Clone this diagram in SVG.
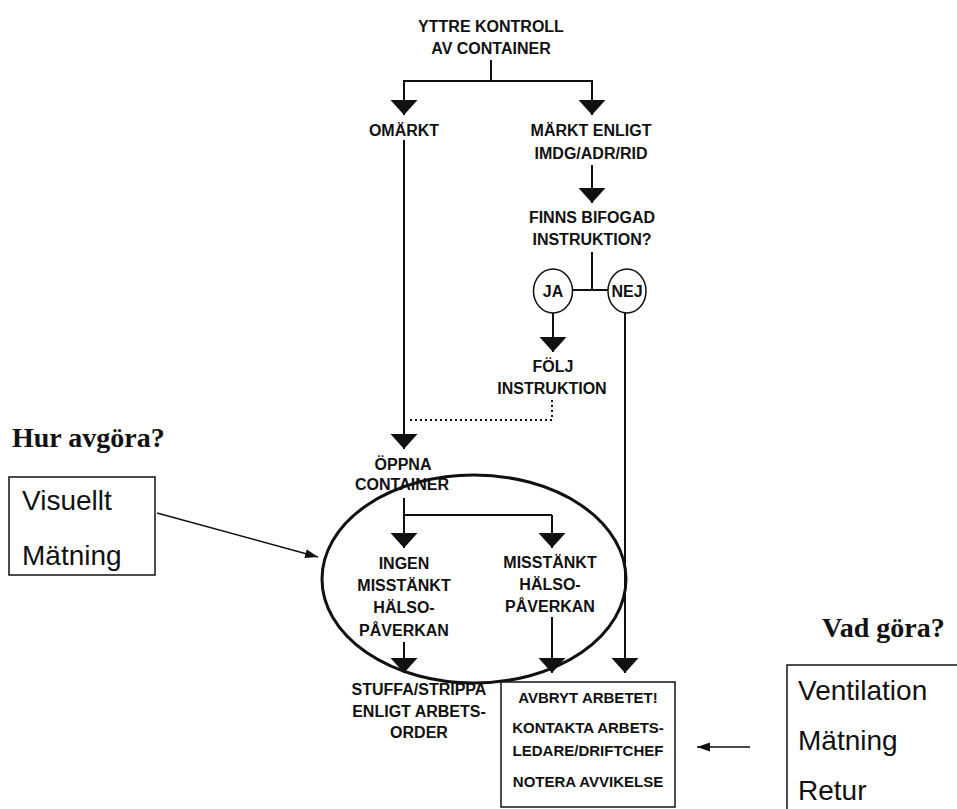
<svg xmlns="http://www.w3.org/2000/svg" width="957" height="809" viewBox="0 0 957 809">
<style>
.t{font-family:"Liberation Sans",Arial,sans-serif;font-weight:bold;font-size:16px;fill:#111;text-anchor:middle}
.s{font-size:15px}
.h{font-family:"Liberation Serif","Times New Roman",serif;font-weight:bold;font-size:28px;fill:#111}
.r{font-family:"Liberation Sans",Arial,sans-serif;font-size:28px;fill:#111}
.c{fill:none;stroke:#111;stroke-width:2}
.big{marker-end:url(#tri)}
.dot{fill:none;stroke:#111;stroke-width:2;stroke-dasharray:2 3}
.thin{fill:none;stroke:#111;stroke-width:1.5;marker-end:url(#sm)}
.box{fill:#fff;stroke:#111;stroke-width:1.5}
.oval{fill:#fff;stroke:#111;stroke-width:1.5}
</style>
<defs>
<marker id="tri" markerUnits="userSpaceOnUse" markerWidth="16" markerHeight="28" refX="15" refY="14" orient="auto" viewBox="0 0 16 28">
<path d="M0,0.5 L15,14 L0,27.5 z" fill="#111"/>
</marker>
<marker id="sm" markerUnits="userSpaceOnUse" markerWidth="14" markerHeight="10" refX="13" refY="5" orient="auto" viewBox="0 0 14 10">
<path d="M0,0.5 L13,5 L0,9.5 z" fill="#111"/>
</marker>
</defs>
<rect width="957" height="809" fill="#fff"/>

<g id="connectors">
<path class="c" d="M491,60 V81 M403,81 H593"/>
<path class="c big" d="M404,81 V115"/>
<path class="c big" d="M592,81 V115"/>
<path class="c big" d="M592,165 V203"/>
<path class="c" d="M592,252 V290 M573,290 H608"/>
<path class="c big" d="M553,313 V352"/>
<path class="c big" d="M404,140 V449"/>
<path class="dot" d="M552,400 V420 H408"/>
<path class="c" d="M404,515 H552"/>
<path class="c big" d="M404,498 V548"/>
<path class="c big" d="M552,515 V548"/>
<path class="c big" d="M404,642 V673"/>
<path class="c big" d="M552,617 V673"/>
<path class="c big" d="M625,313 V673"/>
<path class="thin" d="M157,513 L318,557"/>
<path class="thin" d="M750,747 L697,747"/>
</g>

<g id="n-yttre"><text class="t" x="491" y="32">YTTRE KONTROLL</text><text class="t" x="491" y="54">AV CONTAINER</text></g>
<g id="n-omarkt"><text class="t" x="404" y="136">OMÄRKT</text></g>
<g id="n-markt"><text class="t" x="591" y="136">MÄRKT ENLIGT</text><text class="t" x="591" y="159">IMDG/ADR/RID</text></g>
<g id="n-finns"><text class="t" x="592" y="223">FINNS BIFOGAD</text><text class="t" x="592" y="245">INSTRUKTION?</text></g>
<g id="n-ja"><ellipse class="oval" cx="553" cy="291" rx="19.5" ry="22"/><text class="t" x="553" y="297">JA</text></g>
<g id="n-nej"><ellipse class="oval" cx="627" cy="291" rx="19" ry="22"/><text class="t" x="627" y="297">NEJ</text></g>
<g id="n-folj"><text class="t" x="553" y="372">FÖLJ</text><text class="t" x="552" y="394">INSTRUKTION</text></g>
<g id="n-oppna"><text class="t" x="403" y="470">ÖPPNA</text><text class="t" x="402" y="490">CONTAINER</text></g>
<g id="n-ellipse"><ellipse cx="474" cy="579" rx="152" ry="104" fill="none" stroke="#111" stroke-width="3"/></g>
<g id="n-ingen"><text class="t" x="404" y="569">INGEN</text><text class="t" x="404" y="591">MISSTÄNKT</text><text class="t" x="404" y="613">HÄLSO-</text><text class="t" x="404" y="636">PÅVERKAN</text></g>
<g id="n-misst"><text class="t" x="550" y="568">MISSTÄNKT</text><text class="t" x="550" y="590">HÄLSO-</text><text class="t" x="550" y="612">PÅVERKAN</text></g>
<g id="n-stuffa"><text class="t" x="419" y="695">STUFFA/STRIPPA</text><text class="t" x="419" y="717">ENLIGT ARBETS-</text><text class="t" x="419" y="738">ORDER</text></g>
<g id="n-avbryt"><rect class="box" x="501" y="682" width="174" height="125"/>
<text class="t s" x="588" y="703">AVBRYT ARBETET!</text>
<text class="t s" x="588" y="733">KONTAKTA ARBETS-</text>
<text class="t s" x="588" y="756">LEDARE/DRIFTCHEF</text>
<text class="t s" x="588" y="787">NOTERA AVVIKELSE</text></g>
<g id="n-hur"><text class="h" x="12" y="447">Hur avgöra?</text></g>
<g id="n-visuellt"><rect class="box" x="9" y="477" width="146" height="98"/><text class="r" x="22" y="510">Visuellt</text><text class="r" x="22" y="565">Mätning</text></g>
<g id="n-vad"><text class="h" x="822" y="637">Vad göra?</text></g>
<g id="n-ventilation"><rect class="box" x="787" y="665" width="200" height="180"/><text class="r" x="798" y="700">Ventilation</text><text class="r" x="798" y="750">Mätning</text><text class="r" x="798" y="800">Retur</text></g>
</svg>
